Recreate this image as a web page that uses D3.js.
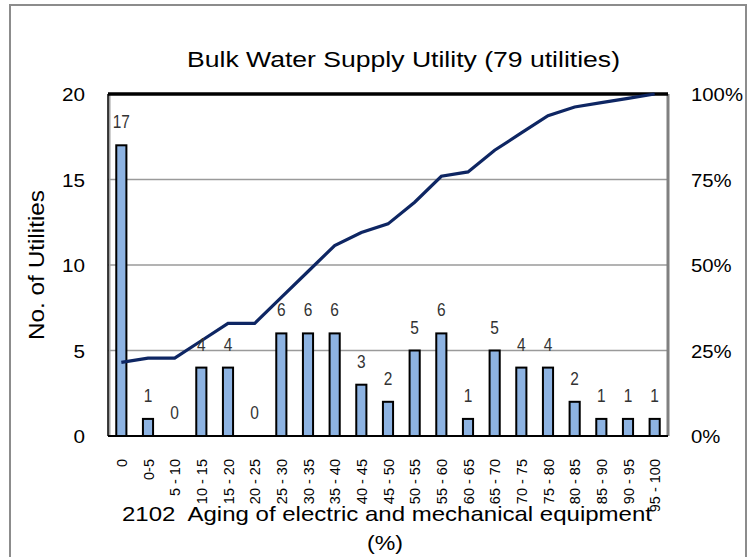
<!DOCTYPE html>
<html>
<head>
<meta charset="utf-8">
<script src="https://cdn.jsdelivr.net/npm/d3@7"></script>
<style>
  body { margin: 0; background: #fff; }
  svg { display: block; font-family: "Liberation Sans", Arial, sans-serif; }
</style>
</head>
<body>
<svg id="chart" width="748" height="557"></svg>
<script>
const categories = ['0', '0-5', '5 - 10', '10 - 15', '15 - 20', '20 - 25', '25 - 30', '30 - 35', '35 - 40', '40 - 45',
  '45 - 50', '50 - 55', '55 - 60', '60 - 65', '65 - 70', '70 - 75', '75 - 80', '80 - 85', '85 - 90', '90 - 95', '95 - 100']
const counts = [17, 1, 0, 4, 4, 0, 6, 6, 6, 3, 2, 5, 6, 1, 5, 4, 4, 2, 1, 1, 1]
const leftTicks = [0, 5, 10, 15, 20]
const rightTicks = [0, 0.25, 0.5, 0.75, 1]

const title = 'Bulk Water Supply Utility (79 utilities)'
const yTitle = 'No. of Utilities'
const xTitle1 = '2102  Aging of electric and mechanical equipment'
const xTitle2 = '(%)'

const total = d3.sum(counts)
let run = 0
const cumulative = counts.map(c => { run += c; return run / total })

const margin = {top: 94, right: 80, bottom: 121, left: 108}
const width = 748, height = 557
const svg = d3.select('#chart')

// outer frame
svg.append('rect')
  .attr('x', 10).attr('y', 5)
  .attr('width', 736).attr('height', 560)
  .attr('fill', 'none').attr('stroke', '#8c8c8c').attr('stroke-width', 2)

const x = d3.scaleBand()
  .domain(categories)
  .range([margin.left, width - margin.right])
  .paddingInner(0.62).paddingOuter(0.31)
const y = d3.scaleLinear().domain([0, 20]).range([height - margin.bottom, margin.top])
const y2 = d3.scaleLinear().domain([0, 1]).range([height - margin.bottom, margin.top])

const x0 = margin.left, x1 = width - margin.right
const yb = height - margin.bottom, yt = margin.top

// gridlines
svg.append('g')
  .selectAll('line')
  .data(leftTicks.filter(d => d > 0 && d < 20))
  .enter().append('line')
  .attr('x1', x0).attr('x2', x1)
  .attr('y1', d => y(d)).attr('y2', d => y(d))
  .attr('stroke', '#9a9a9a').attr('stroke-width', 1.5)

// plot frame
svg.append('line').attr('x1', x1).attr('x2', x1).attr('y1', yt).attr('y2', yb)
  .attr('stroke', '#808080').attr('stroke-width', 3)
svg.append('line').attr('x1', x0 + 1.5).attr('x2', x0 + 1.5).attr('y1', yt).attr('y2', yb)
  .attr('stroke', '#a0a0a0').attr('stroke-width', 2)

// bars
svg.append('g')
  .selectAll('rect')
  .data(counts)
  .enter().append('rect')
  .attr('x', (d, i) => x(categories[i]))
  .attr('y', d => y(d))
  .attr('width', x.bandwidth())
  .attr('height', d => y(0) - y(d))
  .attr('fill', '#8db3e2')
  .attr('stroke', '#000')
  .attr('stroke-width', 2)

svg.append('line').attr('x1', x0).attr('x2', x0).attr('y1', yt).attr('y2', yb)
  .attr('stroke', '#000').attr('stroke-width', 1.5)
svg.append('line').attr('x1', x0).attr('x2', x1).attr('y1', yb).attr('y2', yb)
  .attr('stroke', '#000').attr('stroke-width', 2)
svg.append('line').attr('x1', x0).attr('x2', x1).attr('y1', yt).attr('y2', yt)
  .attr('stroke', '#000').attr('stroke-width', 3.5)

// cumulative line
const line = d3.line()
  .x((d, i) => x(categories[i]) + x.bandwidth() / 2)
  .y(d => y2(d))
svg.append('path')
  .datum(cumulative)
  .attr('d', line)
  .attr('fill', 'none')
  .attr('stroke', '#0e2663')
  .attr('stroke-width', 3.2)

// data labels (narrow digits)
svg.append('g')
  .selectAll('text')
  .data(counts)
  .enter().append('text')
  .attr('transform', (d, i) => `translate(${x(categories[i]) + x.bandwidth() / 2},${y(d) - 17}) scale(0.86,1)`)
  .attr('text-anchor', 'middle')
  .style('font-size', '18px')
  .style('fill', '#333')
  .text(d => d)

// left axis labels
svg.append('g')
  .selectAll('text')
  .data(leftTicks)
  .enter().append('text')
  .attr('transform', d => `translate(85,${y(d) + 1}) scale(1.15,1)`)
  .attr('dy', '0.35em')
  .attr('text-anchor', 'end')
  .style('font-size', '18px')
  .text(d => d)

// right axis labels
svg.append('g')
  .selectAll('text')
  .data(rightTicks)
  .enter().append('text')
  .attr('transform', d => `translate(691,${y2(d) + 1}) scale(1.13,1)`)
  .attr('dy', '0.35em')
  .style('font-size', '18px')
  .text(d => d3.format('.0%')(d))

// category labels
svg.append('g')
  .selectAll('text')
  .data(categories)
  .enter().append('text')
  .attr('transform', d => `translate(${x(d) + x.bandwidth() / 2 + 5.5},459) rotate(-90)`)
  .attr('text-anchor', 'end')
  .style('font-size', '14.5px')
  .text(d => d)

// titles
svg.append('text')
  .attr('x', 403.5).attr('y', 67)
  .attr('text-anchor', 'middle')
  .attr('textLength', 433).attr('lengthAdjust', 'spacingAndGlyphs')
  .style('font-size', '22.5px')
  .text(title)

svg.append('text')
  .attr('transform', 'translate(44,265) rotate(-90)')
  .attr('text-anchor', 'middle')
  .attr('textLength', 150).attr('lengthAdjust', 'spacingAndGlyphs')
  .style('font-size', '22px')
  .text(yTitle)

svg.append('text')
  .attr('x', 387).attr('y', 521)
  .attr('text-anchor', 'middle')
  .attr('textLength', 530).attr('lengthAdjust', 'spacingAndGlyphs')
  .style('font-size', '21px')
  .style('white-space', 'pre')
  .text(xTitle1)
svg.append('text')
  .attr('x', 385).attr('y', 550)
  .attr('text-anchor', 'middle')
  .attr('textLength', 36).attr('lengthAdjust', 'spacingAndGlyphs')
  .style('font-size', '21px')
  .text(xTitle2)
</script>
</body>
</html>
